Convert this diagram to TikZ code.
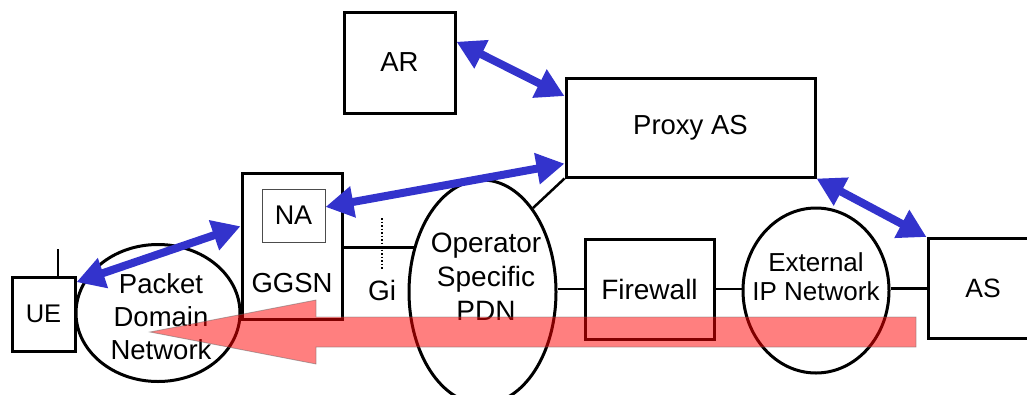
\documentclass[tikz,border=0pt]{standalone}
\usepackage{fontspec}
\setmainfont{Liberation Sans}
\usetikzlibrary{shapes.geometric, arrows.meta, positioning}
\definecolor{linkblue}{RGB}{51,51,204}

\begin{document}
\begin{tikzpicture}[
    x=1pt, y=-1pt,
    box/.style={draw, line width=3pt, inner sep=0pt, font=\fontsize{27}{32}\selectfont},
    net/.style={draw, ellipse, line width=3pt, inner sep=0pt},
    txt/.style={align=center, inner sep=0pt, font=\fontsize{27.5}{33}\selectfont},
    wire/.style={line width=2.5pt},
    link/.style={{Triangle[length=28pt, width=30pt]}-{Triangle[length=28pt, width=30pt]}, line width=8pt, linkblue},
    flow/.style={fill=red, fill opacity=0.5, draw=black!60, draw opacity=0.5, line width=0.8pt}
]
    \useasboundingbox (0,0) rectangle (1027,394);

    % Boxes
    \node[box, minimum width=111pt, minimum height=101pt, font=\fontsize{27.5}{32}\selectfont] (ar) at (399.5,62.5) {AR};
    \node[box, minimum width=249pt, minimum height=99pt, font=\fontsize{27.5}{32}\selectfont] (proxy) at (690.5,127.5) {Proxy AS};
    \node[box, minimum width=100pt, minimum height=146pt] (ggsn) at (292,246) {};
    \node[draw=black!70, line width=1pt, minimum width=63pt, minimum height=53pt, inner sep=0pt, font=\fontsize{27}{32}\selectfont] (na) at (293.5,215.5) {NA};
    \node[box, minimum width=63pt, minimum height=74pt, font=\fontsize{25.5}{30}\selectfont] (ue) at (43.5,314) {UE};
    \node[box, minimum width=129pt, minimum height=100pt, font=\fontsize{28}{32}\selectfont] (fw) at (649.5,289) {Firewall};
    \node[box, minimum width=110pt, minimum height=100pt, font=\fontsize{26.5}{32}\selectfont] (as) at (983,288.5) {AS};

    % Networks
    \node[net, minimum width=164pt, minimum height=137pt] (pdn) at (158,313) {};
    \node[net, minimum width=147pt, minimum height=224pt] (opdn) at (482.5,292) {};
    \node[net, minimum width=146pt, minimum height=165pt] (ipnet) at (816,290.5) {};

    % Labels
    \node[txt] (ggsnlbl) at (292,283) {GGSN};
    \node[txt, font=\fontsize{28}{33}\selectfont] (gilbl) at (382,290) {Gi};
    \node[txt] (pdnlbl) at (161,317) {Packet\\Domain\\Network};
    \node[txt, font=\fontsize{28}{34}\selectfont] (opdnlbl) at (486,277) {Operator\\Specific\\PDN};
    \node[txt, font=\fontsize{26}{29}\selectfont] (ipnetlbl) at (816,277) {External\\IP Network};

    % Wires
    \coordinate (ant) at (58,249);
    \coordinate (gitop) at (382,218);
    \draw[wire] (ant) -- (ant |- ue.north);
    \draw[wire] (ggsn.east |- opdn.147) -- (opdn.147);
    \draw[dotted, line width=1.5pt] (gitop) -- ++(0,52);
    \draw[wire] (opdn.59) -- (proxy.south west);
    \draw[wire] (opdn.east |- fw.west) -- (fw.west);
    \draw[wire] (fw.east) -- (ipnet.west |- fw.east);
    \draw[wire] (ipnet.east |- as.west) -- (as.west);

    % Links
    \draw[link] (ar.20) -- (proxy.166);
    \draw[link] (na.15) -- (proxy.196);
    \draw[link] (ue.44) -- (ggsn.159);
    \draw[link] (proxy.south east) -- (as.north west);

    % Data path
    \draw[flow] (916,317) -- (316,317) -- (316,300) -- (150,332) -- (316,364) -- (316,347) -- (916,347) -- cycle;
\end{tikzpicture}
\end{document}
